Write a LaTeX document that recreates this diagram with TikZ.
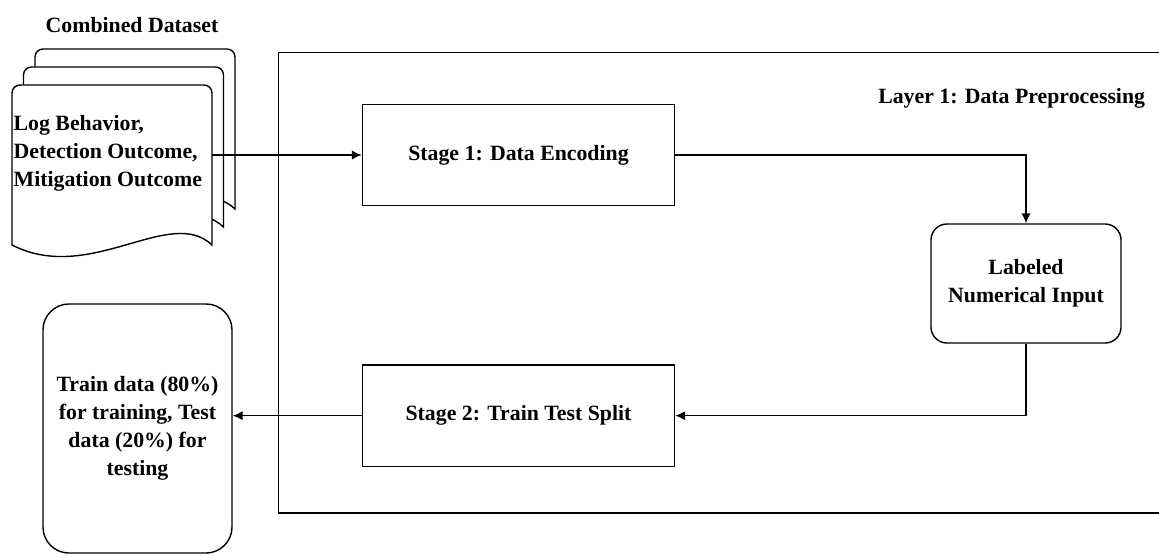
\documentclass[tikz,border=0pt]{standalone}
\usepackage{fontspec}
\setmainfont{Liberation Serif}
\usepackage{tikz}
\usetikzlibrary{arrows.meta,positioning,calc}

\tikzset{
  lbl/.style={font=\bfseries\fontsize{15.5}{20}\selectfont},
  stagebox/.style={draw,line width=1pt,minimum width=7.8cm,minimum height=2.53cm,lbl},
  roundbox/.style={draw,line width=1pt,rounded corners=0.4cm,align=center,lbl},
  arr/.style={line width=1pt,-{Latex[length=7pt,width=6.5pt]}}
}

\begin{document}
\begin{tikzpicture}[x=0.025cm,y=-0.025cm]
\useasboundingbox (0,0) rectangle (1159,555);

% the data stack
\foreach \d in {2,1,0}
  \draw[line width=1pt,fill=white,shift={(11.5*\d,-18*\d)}]
    (12,245) [rounded corners=0.2cm] -- (12,85) -- (212,85) [sharp corners] -- (212,245)
    .. controls (170,205) and (90,285) .. (12,245) -- cycle;
\node[lbl] (dstitle) at (132,25) {Combined Dataset};
\node[lbl,anchor=west,align=left,inner sep=1pt] (data) at (12,153) {Log Behavior,\\Detection Outcome,\\Mitigation Outcome};
\coordinate (dataout) at (212,155);

% layer box
\node[draw,line width=1pt,anchor=north west,minimum width=22.5cm,minimum height=11.5cm] (layer) at (278,52) {};
\node[lbl,anchor=east] (layertitle) at (1150,98) {Layer 1: Data Preprocessing};

\node[stagebox] (enc) at (518.5,155) {Stage 1: Data Encoding};
\node[stagebox,below=3.95cm of enc] (split) {Stage 2: Train Test Split};
\node[roundbox,minimum width=4.75cm,minimum height=2.975cm] (lab) at (1026,283.5) {Labeled\\Numerical Input};
\node[roundbox,rounded corners=0.65cm,minimum width=4.725cm,minimum height=6.225cm] (out) at (137.5,428.5)
  {Train data (80\%)\\for training, Test\\data (20\%) for\\testing};

\draw[arr] (dataout) -- (enc);
\draw[arr] (enc.east) -| (lab.north);
\draw[arr] (lab.south) |- (split.east);
\draw[arr] (split.west) -- (split.west -| out.east);

\end{tikzpicture}
\end{document}
